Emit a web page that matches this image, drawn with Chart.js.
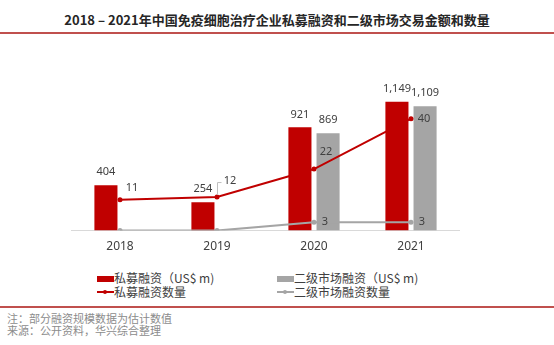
<!DOCTYPE html>
<html>
<head>
<meta charset="utf-8">
<script src="https://cdn.jsdelivr.net/npm/chart.js@4"></script>
<style>
  html, body { margin:0; padding:0; background:#fff; }
  body { width:554px; height:345px; position:relative; overflow:hidden;
         font-family: "Noto Sans CJK SC", "Noto Sans", sans-serif; color:#404040; }
  .abs { position:absolute; white-space:nowrap; }
  #title { left:0; width:554px; top:10px; text-align:center; font-size:13px; font-weight:bold; color:#262626; line-height:20px; }
  .rule { position:absolute; left:0; width:554px; height:2px; background:#c0504d; }
  .leg { font-size:12px; line-height:14px; color:#404040; }
  .sw { position:absolute; width:17px; height:6px; }
  .ln { position:absolute; width:17px; height:2px; }
  .dot { position:absolute; width:4px; height:4px; border-radius:50%; }
  .note { font-size:11px; line-height:12px; color:#8c8c8c; left:7px; }
  #c { position:absolute; left:0; top:0; }
</style>
</head>
<body>
<div id="title" class="abs">2018 – 2021年中国免疫细胞治疗企业私募融资和二级市场交易金额和数量</div>
<div class="rule" style="top:32px"></div>
<canvas id="c" width="554" height="263"></canvas>

<div class="sw" style="left:97px; top:276px; background:#c00000"></div>
<div class="abs leg" style="left:114px; top:271px">私募融资（US$ m)</div>
<div class="sw" style="left:277px; top:276px; background:#a5a5a5"></div>
<div class="abs leg" style="left:294px; top:271px">二级市场融资（US$ m)</div>

<div class="ln" style="left:97px; top:291px; background:#c00000"></div>
<div class="dot" style="left:103px; top:290px; background:#c00000"></div>
<div class="abs leg" style="left:114px; top:285px">私募融资数量</div>
<div class="ln" style="left:277px; top:291px; background:#a5a5a5"></div>
<div class="dot" style="left:283px; top:290px; background:#a5a5a5"></div>
<div class="abs leg" style="left:294px; top:285px">二级市场融资数量</div>

<div class="rule" style="top:306px"></div>
<div class="abs note" style="top:312px">注：部分融资规模数据为估计数值</div>
<div class="abs note" style="top:324px">来源：公开资料，华兴综合整理</div>

<script>
const categories = ["2018", "2019", "2020", "2021"];
const privateAmount = [404, 254, 921, 1149];
const secondaryAmount = [null, null, 869, 1109];
const privateCount = [11, 12, 22, 40];
const secondaryCount = [0, 0, 3, 3];

const RED = "#c00000", GRAY = "#a5a5a5";

// label offsets for line labels (dx, dy) relative to the point
const lineLabelOffsets = {
  privateCount: [[12,-12],[13,-16],[12,-17],[13,0]],
  secondaryCount: [[11,0],[11,0],[11,0],[11,0]]
};

function fmt(v){ return v.toLocaleString("en-US"); }

const labelPlugin = {
  id: "valueLabels",
  afterDatasetsDraw(chart) {
    const ctx = chart.ctx;
    ctx.save();
    ctx.fillStyle = "#404040";
    ctx.font = '11px "Noto Sans", "Noto Sans CJK SC", sans-serif';
    ctx.textAlign = "center";
    ctx.textBaseline = "middle";
    chart.data.datasets.forEach((ds, di) => {
      const meta = chart.getDatasetMeta(di);
      meta.data.forEach((el, i) => {
        const v = ds.data[i];
        if (v === null || v === undefined) return;
        if (ds.type === "bar") {
          ctx.fillText(fmt(v), el.x, el.y - 13);
        } else {
          if (v === 0) return;
          const off = lineLabelOffsets[ds.key][i];
          if (ds.key === "privateCount" && i === 1) {
            ctx.save();
            ctx.strokeStyle = "#bfbfbf";
            ctx.lineWidth = 1;
            ctx.beginPath();
            ctx.moveTo(el.x + 0.5, el.y - 2);
            ctx.lineTo(el.x + 0.5, el.y + off[1] + 1.5);
            ctx.lineTo(el.x + 4.5, el.y + off[1] + 1.5);
            ctx.stroke();
            ctx.restore();
          }
          ctx.fillText(fmt(v), el.x + off[0], el.y + off[1]);
        }
      });
    });
    ctx.restore();
  }
};

new Chart(document.getElementById("c"), {
  type: "bar",
  data: {
    labels: categories,
    datasets: [
      { type:"line", key:"privateCount", data: privateCount, yAxisID:"y1", order:0,
        borderColor: RED, backgroundColor: RED, borderWidth:2, pointRadius:2.5,
        pointBackgroundColor: RED, pointBorderWidth:0, tension:0 },
      { type:"line", key:"secondaryCount", data: secondaryCount, yAxisID:"y1", order:0,
        borderColor: GRAY, backgroundColor: GRAY, borderWidth:2, pointRadius:2.5,
        pointBackgroundColor: GRAY, pointBorderWidth:0, tension:0 },
      { type:"bar", key:"privateAmount", data: privateAmount, yAxisID:"y", order:1,
        backgroundColor: RED, barPercentage:0.82, categoryPercentage:0.58 },
      { type:"bar", key:"secondaryAmount", data: secondaryAmount, yAxisID:"y", order:1,
        backgroundColor: GRAY, barPercentage:0.82, categoryPercentage:0.58 }
    ]
  },
  options: {
    responsive: false,
    animation: false,
    devicePixelRatio: 1,
    layout: { padding: { left: 71.5, right: 94.5, top: 72, bottom: 0 } },
    plugins: { legend: { display:false }, tooltip: { enabled:false } },
    scales: {
      x: {
        grid: { display:false, drawTicks:false },
        border: { display:true, color:"#d9d9d9", width:1 },
        ticks: { padding:9, color:"#404040", font: { size:12, family:'"Noto Sans", "Noto Sans CJK SC", sans-serif' } }
      },
      y: { display:false, min:0, max:1415 },
      y1: { display:false, min:0, max:56.7, position:"right" }
    }
  },
  plugins: [labelPlugin]
});
</script>
</body>
</html>
